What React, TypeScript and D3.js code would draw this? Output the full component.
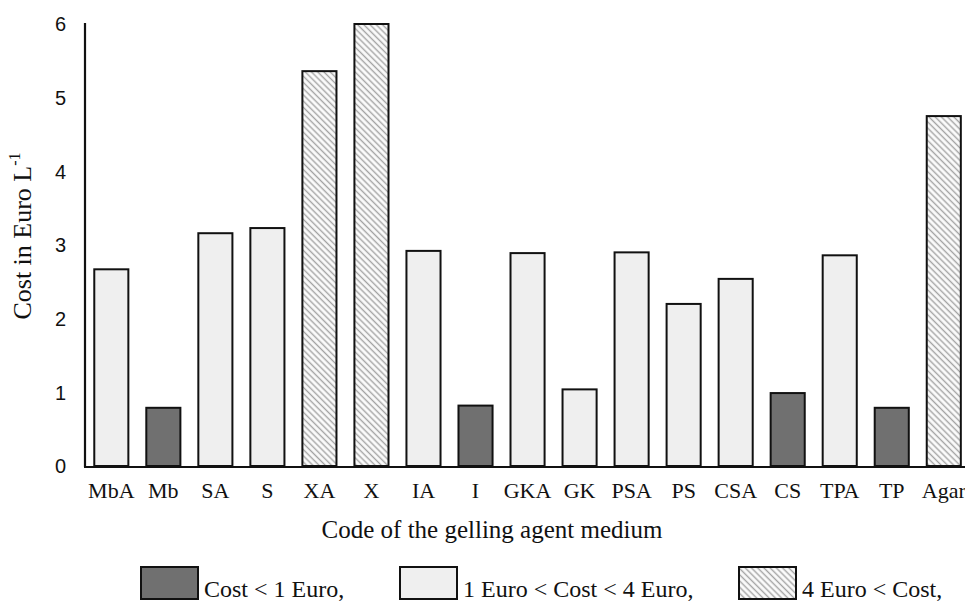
import React from "react";
import * as d3 from "d3";

const categories = ["MbA","Mb","SA","S","XA","X","IA","I","GKA","GK","PSA","PS","CSA","CS","TPA","TP","Agar"];
const costs = [2.67,0.79,3.16,3.23,5.36,6.0,2.92,0.82,2.89,1.04,2.90,2.20,2.54,0.99,2.86,0.79,4.75];
const classes = ["mid","low","mid","mid","high","high","mid","low","mid","mid","mid","mid","mid","low","mid","low","high"];
const yTicks = [0,1,2,3,4,5,6];
const legendItems = [
  { key: "low", label: "Cost < 1 Euro," },
  { key: "mid", label: "1 Euro < Cost < 4 Euro," },
  { key: "high", label: "4 Euro < Cost," },
];

const W = 965, H = 603;
const fills: Record<string, string> = { low: "#707070", mid: "#efefef", high: "url(#hatch)" };

export default function App() {
  const x = d3.scaleBand<string>().domain(categories).range([85.3, 969.8]).paddingInner(0.345).paddingOuter(0.1725);
  const y = d3.scaleLinear().domain([0, 6]).range([466, 24]);
  const serif = "'Liberation Serif', 'Times New Roman', serif";
  const sans = "'Liberation Sans', Arial, sans-serif";
  const legendX = [141, 400, 739];
  return (
    <svg width={W} height={H} style={{ position: "fixed", left: 0, top: 0, background: "#fff" }}>
      <defs>
        <pattern id="hatch" patternUnits="userSpaceOnUse" width={4.4} height={4.4} patternTransform="rotate(-45)">
          <rect width={4.4} height={4.4} fill="#fbfbfb" />
          <line x1={2.2} y1={0} x2={2.2} y2={4.4} stroke="#a3a3a3" strokeWidth={1.4} />
        </pattern>
      </defs>
      {categories.map((c, i) => (
        <rect key={c} x={x(c)} y={y(costs[i])} width={x.bandwidth()} height={y(0) - y(costs[i])}
          fill={fills[classes[i]]} stroke="#111" strokeWidth={2} />
      ))}
      <line x1={85} x2={85} y1={23} y2={467} stroke="#111" strokeWidth={2.2} />
      <line x1={84} x2={W} y1={467} y2={467} stroke="#111" strokeWidth={2.2} />
      {yTicks.map(t => (
        <text key={t} x={66} y={y(t)} dy="0.36em" textAnchor="end" fontFamily={sans} fontSize={20} fill="#111">{t}</text>
      ))}
      {categories.map(c => (
        <text key={c} x={(x(c) as number) + x.bandwidth() / 2} y={498} textAnchor="middle" fontFamily={serif} fontSize={22} fill="#111">{c}</text>
      ))}
      <text x={492} y={538} textAnchor="middle" fontFamily={serif} fontSize={25} fill="#111">Code of the gelling agent medium</text>
      <text transform="translate(31,236) rotate(-90)" textAnchor="middle" fontFamily={serif} fontSize={26} fill="#111">
        Cost in Euro L<tspan fontSize={16} dy={-11}>-1</tspan>
      </text>
      {legendItems.map((it, i) => (
        <g key={it.key}>
          <rect x={legendX[i]} y={567} width={57} height={32} fill={fills[it.key]} stroke="#111" strokeWidth={2} />
          <text x={legendX[i] + 63} y={597} fontFamily={serif} fontSize={24} fill="#111">{it.label}</text>
        </g>
      ))}
    </svg>
  );
}
